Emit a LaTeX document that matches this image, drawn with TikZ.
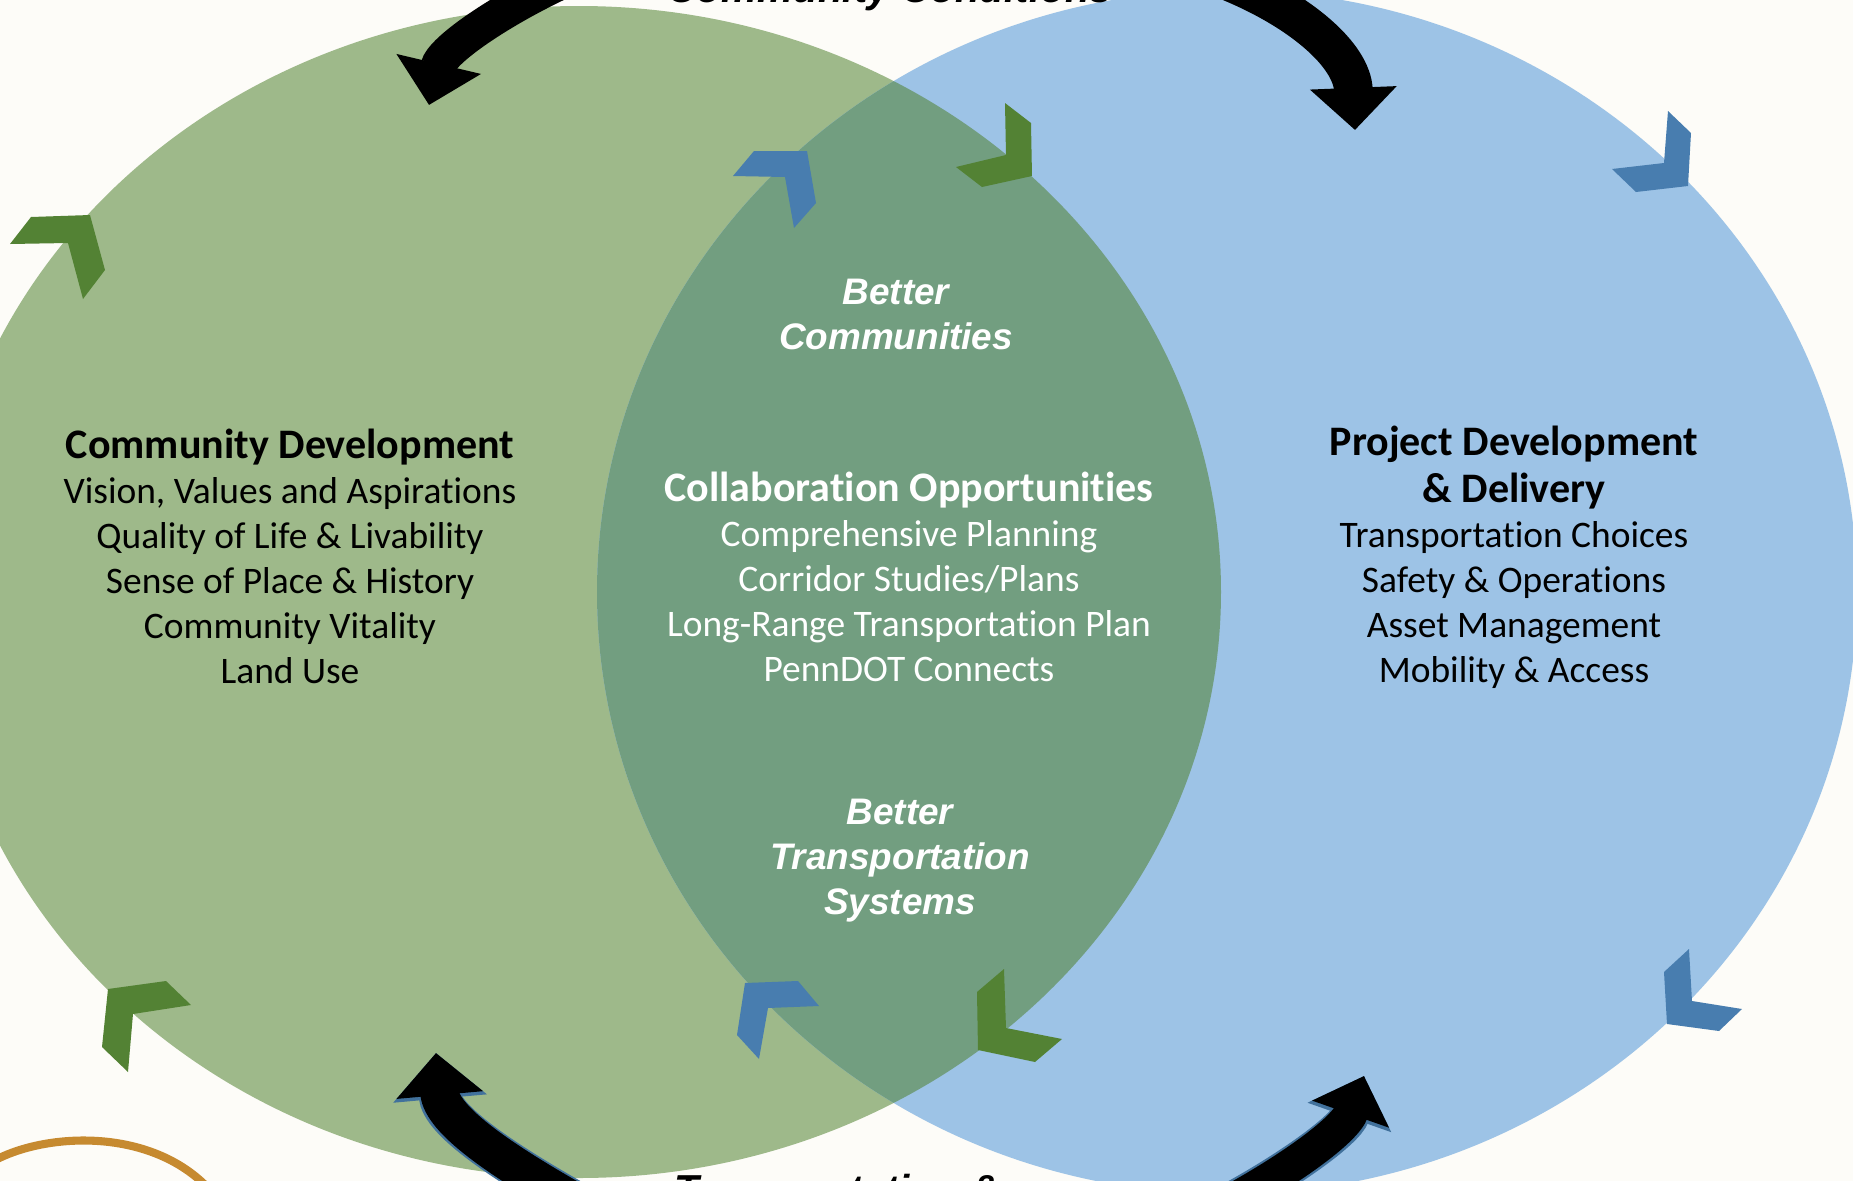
\documentclass[tikz,border=0pt]{standalone}
\usepackage{fontspec}
\usetikzlibrary{arrows.meta}
\newfontfamily\calib[Ligatures=NoCommon]{Carlito}
\newfontfamily\arialf{Liberation Sans}
\definecolor{bgpaper}{HTML}{FDFCF8}
\definecolor{cdgreen}{HTML}{9EB98A}
\definecolor{pdblue}{HTML}{9DC3E6}
\definecolor{lensgreen}{HTML}{729E80}
\definecolor{chevgreen}{HTML}{538234}
\definecolor{chevblue}{HTML}{487DAF}
\definecolor{rimblue}{HTML}{41719C}
\definecolor{goldarc}{HTML}{C68A30}

\begin{document}
\begin{tikzpicture}[x=0.01cm, y=-0.01cm,
    headtxt/.style={font=\calib\bfseries\fontsize{11.95}{12.8}\selectfont, anchor=base},
    listtxt/.style={font=\calib\fontsize{10.65}{12.8}\selectfont, anchor=base},
    bettertxt/.style={font=\arialf\bfseries\itshape\fontsize{10.5}{12.5}\selectfont, text=white, anchor=base},
    edgetxt/.style={font=\arialf\bfseries\itshape\fontsize{11.5}{13}\selectfont},
    grnchev/.style={fill=chevgreen},
    bluchev/.style={fill=chevblue},
    cycarrow/.style={line width=#1, -{Triangle[length=12pt, width=24pt]}}]

    % Paper and frame
    \fill[bgpaper] (0,0) rectangle (1853,1181);
    \clip (0,0) rectangle (1853,1181);

    % The two circles and their overlap
    \fill[cdgreen] (579,592) ellipse [x radius=642, y radius=586];
    \fill[pdblue] (1227,592) ellipse [x radius=630, y radius=602];
    \begin{scope}
        \clip (579,592) ellipse [x radius=642, y radius=586];
        \fill[lensgreen] (1227,592) ellipse [x radius=630, y radius=602];
    \end{scope}

    % Small gold arc in the corner
    \draw[goldarc, line width=2.3pt] (-10,1163) .. controls (40,1133) and (150,1125) .. (210,1190);

    % Chevrons on the green circle
    \fill[grnchev] (10,244) -- (31,217) -- (90,215) -- (105,270) -- (83,299) -- (68,243) -- cycle;
    \fill[grnchev] (956,167) -- (982,187) -- (1032,176) -- (1031,123) -- (1005,103) -- (1006,155) -- cycle;
    \fill[grnchev] (108,989) -- (166,981) -- (191,1005) -- (133,1014) -- (128,1072) -- (102,1047) -- cycle;
    \fill[grnchev] (1004,969) -- (977,992) -- (978,1050) -- (1035,1062) -- (1062,1039) -- (1006,1028) -- cycle;

    % Chevrons on the blue circle
    \fill[bluchev] (733,176) -- (754,151) -- (807,151) -- (816,203) -- (794,228) -- (785,177) -- cycle;
    \fill[bluchev] (1612,169) -- (1636,192) -- (1688,186) -- (1691,133) -- (1668,111) -- (1664,163) -- cycle;
    \fill[bluchev] (745,983) -- (798,981) -- (819,1006) -- (768,1008) -- (759,1059) -- (737,1035) -- cycle;
    \fill[bluchev] (1689,949) -- (1664,972) -- (1667,1024) -- (1719,1031) -- (1742,1009) -- (1692,1001) -- cycle;

    % Curved arrows at the top
    \draw[cycarrow=10pt] (565,-20) .. controls (500,10) and (442,50) .. (429,105);
    \draw[cycarrow=11pt] (1225,-20) .. controls (1300,10) and (1352,55) .. (1355,130);

    % Curved arrows at the bottom (thin blue rim)
    \draw[cycarrow=12pt, rimblue, -{Triangle[length=13pt, width=26pt]}] (580,1205) .. controls (500,1160) and (442,1120) .. (436,1053);
    \draw[cycarrow=11pt] (580,1205) .. controls (500,1160) and (442,1120) .. (436,1053);
    \draw[cycarrow=11pt, rimblue, -{Triangle[length=12.5pt, width=24.5pt]}] (1225,1205) .. controls (1290,1170) and (1345,1130) .. (1364,1076);
    \draw[cycarrow=9.8pt, -{Triangle[length=11.5pt, width=22.5pt]}] (1225,1205) .. controls (1290,1170) and (1345,1130) .. (1364,1076);

    % Labels cut by the frame
    \node[edgetxt, anchor=base] (topcap) at (890,2) {Community Conditions};
    \node[edgetxt, anchor=base west, inner sep=0pt] (botcap) at (674,1203) {Transportation \&};

    % Left circle
    \node[headtxt] (cdhead) at (290,458) {Community Development};
    \foreach \ln [count=\i] in {{Vision, Values and Aspirations}, {Quality of Life \& Livability},
            {Sense of Place \& History}, {Community Vitality}, {Land Use}}
        \node[listtxt] (cd\i) at (290, 458+45*\i) {\ln};

    % Overlap
    \node[bettertxt] (bcomm1) at (896,304) {Better};
    \node[bettertxt] (bcomm2) at (896,349) {Communities};
    \node[headtxt, text=white] (cohead) at (909,501) {Collaboration Opportunities};
    \foreach \ln [count=\i] in {{Comprehensive Planning}, {Corridor Studies/Plans},
            {Long-Range Transportation Plan}, {PennDOT Connects}}
        \node[listtxt, text=white] (co\i) at (909, 501+45*\i) {\ln};
    \node[bettertxt] (btrans1) at (900,824) {Better};
    \node[bettertxt] (btrans2) at (900,869) {Transportation};
    \node[bettertxt] (btrans3) at (900,914) {Systems};

    % Right circle
    \node[headtxt] (pdhead1) at (1514,455) {Project Development};
    \node[headtxt] (pdhead2) at (1514,502) {\& Delivery};
    \foreach \ln [count=\i] in {{Transportation Choices}, {Safety \& Operations},
            {Asset Management}, {Mobility \& Access}}
        \node[listtxt] (pd\i) at (1514, 502+45*\i) {\ln};
\end{tikzpicture}
\end{document}
